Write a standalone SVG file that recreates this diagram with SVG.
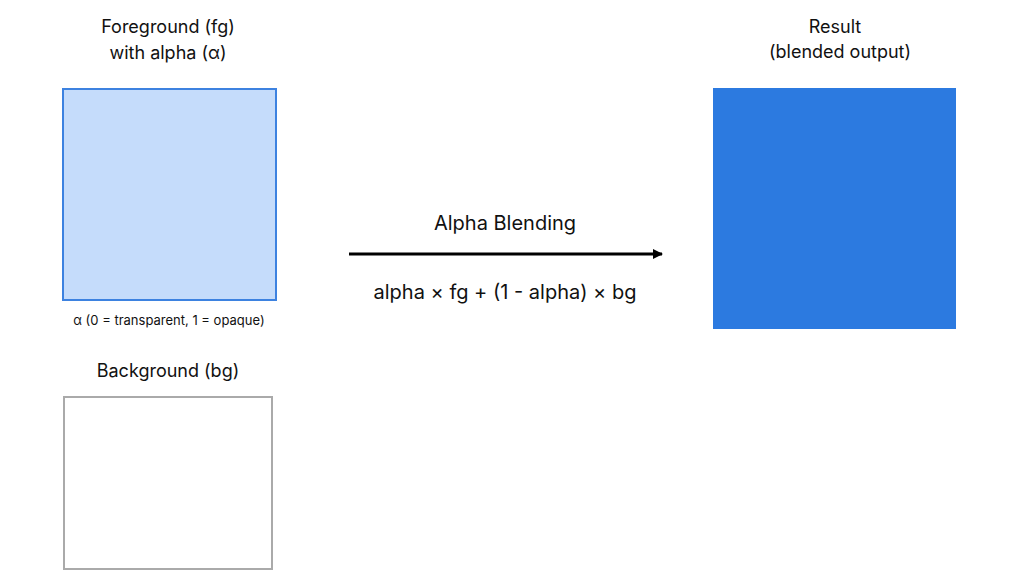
<svg xmlns="http://www.w3.org/2000/svg" width="1024" height="585" viewBox="0 0 1024 585">
<defs>
<style>
text{font-family:"Inter","Liberation Sans",sans-serif;fill:#111;text-anchor:middle}
.t{font-size:18px}
.s{font-size:13px}
.b{font-size:20px}
</style>
<marker id="ah" markerWidth="10" markerHeight="10" refX="9" refY="5" orient="auto" markerUnits="userSpaceOnUse"><path d="M0,0 L10,5 L0,10 Z" fill="#000"/></marker>
</defs>
<rect width="1024" height="585" fill="#fff"/>
<g id="fg">
<text class="t" x="168" y="33">Foreground (fg)</text>
<text class="t" x="168" y="59">with alpha (α)</text>
<rect x="63" y="89" width="213" height="211" fill="#c5dcfb" stroke="#3d82e0" stroke-width="2"/>
<text class="s" x="169" y="325">α (0 = transparent, 1 = opaque)</text>
</g>
<g id="bg">
<text class="t" x="168" y="377">Background (bg)</text>
<rect x="64" y="397" width="208" height="172" fill="#fff" stroke="#aaa" stroke-width="2"/>
</g>
<g id="result">
<text class="t" x="835" y="33">Result</text>
<text class="t" x="840" y="58">(blended output)</text>
<rect x="713" y="88" width="243" height="241" fill="#2c7ae0"/>
</g>
<g id="connectors">
<text class="b" x="505" y="230">Alpha Blending</text>
<line x1="349" y1="254" x2="662" y2="254" stroke="#000" stroke-width="3" marker-end="url(#ah)"/>
<text class="b" x="505" y="299">alpha × fg +  (1 - alpha) × bg</text>
</g>
</svg>
